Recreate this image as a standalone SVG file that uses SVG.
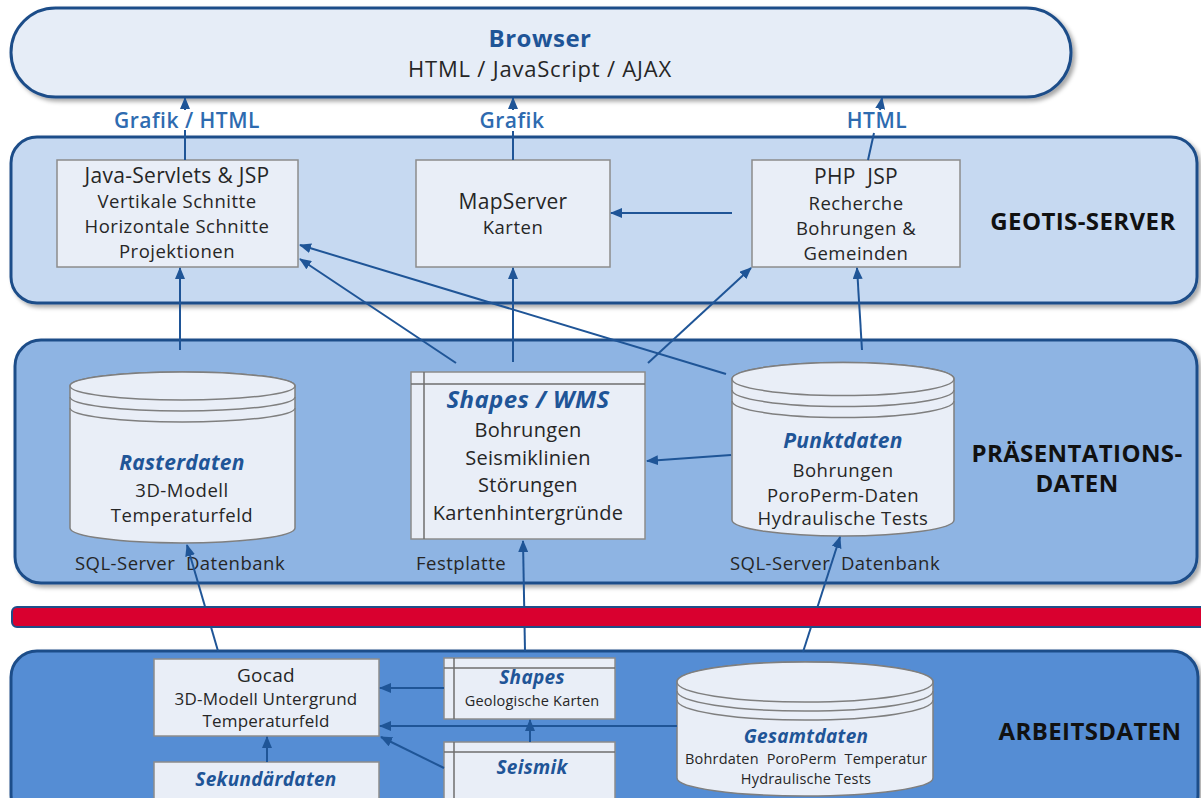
<svg xmlns="http://www.w3.org/2000/svg" width="1201" height="798" viewBox="0 0 1201 798">
<defs>
<filter id="sh" x="-5%" y="-10%" width="110%" height="125%">
<feDropShadow dx="3" dy="3" stdDeviation="2" flood-color="#000" flood-opacity="0.35"/>
</filter>
<marker id="ah" markerUnits="userSpaceOnUse" markerWidth="12" markerHeight="10" refX="11" refY="5" orient="auto" viewBox="0 0 12 10">
<path d="M0,0 L12,5 L0,10 z" fill="#1f5597"/>
</marker>
<style>
.panel{stroke:#1f4e89;stroke-width:3}
.box{fill:#e9eef7;stroke:#8c8c8c;stroke-width:1.5}
.cyl{fill:#e9eef7;stroke:#7f7f7f;stroke-width:1.5}
.ring{fill:none;stroke:#7f7f7f;stroke-width:1.5}
.c{fill:none;stroke:#1f5597;stroke-width:2}
.ca{fill:none;stroke:#1f5597;stroke-width:2;marker-end:url(#ah)}
text{font-family:"Open Sans","Liberation Sans",sans-serif;text-anchor:middle;fill:#262626}
.t{font-size:18.5px;letter-spacing:0.5px}
.tg{font-size:17px;letter-spacing:0.2px}
.tl{font-size:21px;letter-spacing:0.3px}
.tw{font-size:20px;letter-spacing:0.3px}
.sm{font-size:14.5px;letter-spacing:0.2px}
.bi{font-size:21px;font-weight:bold;font-style:italic;fill:#1f5597;letter-spacing:0.3px}
.bis{font-size:19px;font-weight:bold;font-style:italic;fill:#1f5597;letter-spacing:0.3px}
.lbl{font-size:21px;font-weight:600;fill:#2e6bb0;letter-spacing:0.5px}
.hd{font-size:24px;font-weight:bold;fill:#111;letter-spacing:0.4px}
</style>
</defs>

<rect width="1201" height="798" fill="#ffffff"/>

<!-- Browser -->
<g id="browser">
<rect x="11" y="8" width="1060" height="89" rx="44.5" fill="#e6edf7" class="panel" filter="url(#sh)"/>
<text x="540" y="47" style="font-size:24px;font-weight:bold;fill:#1f5597;letter-spacing:0.5px">Browser</text>
<text x="540" y="77" style="font-size:22px;letter-spacing:0.8px">HTML / JavaScript / AJAX</text>
</g>

<!-- Panels -->
<g id="geotis-server">
<rect x="11" y="137" width="1186" height="166" rx="26" fill="#c6d9f1" class="panel" filter="url(#sh)"/>
<text x="1083" y="230" class="hd">GEOTIS-SERVER</text>
</g>
<g id="praesentationsdaten">
<rect x="15" y="340" width="1182" height="243" rx="26" fill="#8eb4e3" class="panel" filter="url(#sh)"/>
<text x="1077" y="462" class="hd">PRÄSENTATIONS-</text>
<text x="1077" y="492" class="hd">DATEN</text>
<text x="180" y="570" class="t">SQL-Server&#160; Datenbank</text>
<text x="416" y="570" class="t" style="text-anchor:start">Festplatte</text>
<text x="835" y="570" class="t">SQL-Server&#160; Datenbank</text>
</g>
<g id="arbeitsdaten">
<rect x="11" y="651" width="1187" height="170" rx="26" fill="#548dd4" class="panel" filter="url(#sh)"/>
<text x="1090" y="740" class="hd">ARBEITSDATEN</text>
</g>

<!-- GEOTIS nodes -->
<g id="servlets">
<rect x="57" y="160" width="241" height="107" class="box"/>
<text x="177" y="183" class="tl">Java-Servlets &amp; JSP</text>
<text x="177" y="208" class="t">Vertikale Schnitte</text>
<text x="177" y="233" class="t">Horizontale Schnitte</text>
<text x="177" y="258" class="t">Projektionen</text>
</g>
<g id="mapserver">
<rect x="416" y="160" width="194" height="107" class="box"/>
<text x="513" y="209" class="tl">MapServer</text>
<text x="513" y="234" class="t">Karten</text>
</g>
<g id="php">
<rect x="752" y="160" width="208" height="107" class="box"/>
<text x="856" y="184" class="tl">PHP&#160; JSP</text>
<text x="856" y="210" class="t">Recherche</text>
<text x="856" y="235" class="t">Bohrungen &amp;</text>
<text x="856" y="260" class="t">Gemeinden</text>
</g>

<!-- Präsentationsdaten nodes -->
<g id="rasterdaten">
<path d="M70,386 V528 A112.5,15 0 0 0 295,528 V386 A112.5,14 0 0 0 70,386 Z" class="cyl"/>
<ellipse cx="182.5" cy="386" rx="112.5" ry="14" class="cyl"/>
<path d="M70,397 A112.5,14 0 0 0 295,397 M70,408 A112.5,14 0 0 0 295,408" class="ring"/>
<text x="182" y="470" class="bi">Rasterdaten</text>
<text x="182" y="497" class="t">3D-Modell</text>
<text x="182" y="522" class="t">Temperaturfeld</text>
</g>
<g id="shapes-wms">
<rect x="411" y="372" width="234" height="167" class="box"/>
<path d="M411,384 H645 M424,372 V539" class="ring" style="stroke:#6f6f6f"/>
<text x="528" y="408" style="font-size:24px;font-weight:bold;font-style:italic;fill:#1f5597;letter-spacing:0.4px">Shapes / WMS</text>
<text x="528" y="437" class="tw">Bohrungen</text>
<text x="528" y="465" class="tw">Seismiklinien</text>
<text x="528" y="492" class="tw">Störungen</text>
<text x="528" y="520" class="tw">Kartenhintergründe</text>
</g>
<g id="punktdaten">
<path d="M732,379 V520 A111,16 0 0 0 954,520 V379 A111,16.5 0 0 0 732,379 Z" class="cyl"/>
<ellipse cx="843" cy="379" rx="111" ry="16.5" class="cyl"/>
<path d="M732,390 A111,16.5 0 0 0 954,390 M732,401 A111,16.5 0 0 0 954,401" class="ring"/>
<text x="843" y="448" class="bi">Punktdaten</text>
<text x="843" y="477" class="t">Bohrungen</text>
<text x="843" y="502" class="t">PoroPerm-Daten</text>
<text x="843" y="525" class="t">Hydraulische Tests</text>
</g>

<!-- Arbeitsdaten nodes -->
<g id="gocad">
<rect x="154" y="659" width="225" height="77" class="box"/>
<text x="266" y="682" class="tl" style="font-size:19px">Gocad</text>
<text x="266" y="705" class="tg">3D-Modell Untergrund</text>
<text x="266" y="727" class="tg">Temperaturfeld</text>
</g>
<g id="sekundaerdaten">
<rect x="154" y="762" width="225" height="50" class="box"/>
<text x="266" y="786" class="bis">Sekundärdaten</text>
</g>
<g id="shapes">
<rect x="444" y="658" width="171" height="61" class="box"/>
<path d="M444,668 H615 M454,658 V719" class="ring" style="stroke:#6f6f6f"/>
<text x="532" y="684" class="bis">Shapes</text>
<text x="532" y="706" class="sm">Geologische Karten</text>
</g>
<g id="seismik">
<rect x="444" y="742" width="171" height="70" class="box"/>
<path d="M444,752 H615 M454,742 V812" class="ring" style="stroke:#6f6f6f"/>
<text x="532" y="774" class="bis">Seismik</text>
</g>
<g id="gesamtdaten">
<path d="M677,682 V778 A128,18 0 0 0 933,778 V682 A128,20 0 0 0 677,682 Z" class="cyl"/>
<ellipse cx="805" cy="682" rx="128" ry="20" class="cyl"/>
<path d="M677,691 A128,20 0 0 0 933,691 M677,700 A128,20 0 0 0 933,700" class="ring"/>
<text x="806" y="743" class="bis">Gesamtdaten</text>
<text x="806" y="764" class="sm">Bohrdaten&#160; PoroPerm&#160; Temperatur</text>
<text x="806" y="784" class="sm">Hydraulische Tests</text>
</g>

<!-- Connectors -->
<g id="connectors">
<line x1="185" y1="160" x2="185" y2="130" class="c"/>
<line x1="185" y1="110" x2="185" y2="98" class="ca"/>
<line x1="513" y1="160" x2="513" y2="131" class="c"/>
<line x1="513" y1="110" x2="513" y2="98" class="ca"/>
<line x1="868" y1="160" x2="874" y2="133" class="c"/>
<line x1="880" y1="110" x2="882" y2="98" class="ca"/>
<line x1="180" y1="350" x2="180" y2="268" class="ca"/>
<line x1="456" y1="363" x2="300" y2="259" class="ca"/>
<line x1="726" y1="374" x2="300" y2="245" class="ca"/>
<line x1="513" y1="362" x2="513" y2="268" class="ca"/>
<line x1="648" y1="363" x2="751" y2="268" class="ca"/>
<line x1="862" y1="350" x2="857" y2="268" class="ca"/>
<line x1="731" y1="455" x2="647" y2="461" class="ca"/>
<line x1="732" y1="213" x2="611" y2="213" class="ca"/>
<line x1="218" y1="651" x2="187" y2="545" class="ca"/>
<line x1="525" y1="651" x2="523" y2="541" class="ca"/>
<line x1="803" y1="652" x2="840" y2="537" class="ca"/>
<line x1="444" y1="688" x2="380" y2="688" class="ca"/>
<line x1="677" y1="726" x2="380" y2="726" class="ca"/>
<line x1="530" y1="742" x2="530" y2="720" class="ca"/>
<line x1="444" y1="768" x2="381" y2="737" class="ca"/>
<line x1="267" y1="762" x2="267" y2="737" class="ca"/>
</g>

<!-- Labels -->
<g id="labels">
<text x="187" y="128" class="lbl">Grafik / HTML</text>
<text x="512" y="128" class="lbl">Grafik</text>
<text x="877" y="128" class="lbl">HTML</text>
</g>

<!-- Red bar -->
<g id="red-bar">
<rect x="12" y="607" width="1200" height="20" rx="5" fill="#d9002f" stroke="#1f4e89" stroke-width="2"/>
</g>
</svg>
